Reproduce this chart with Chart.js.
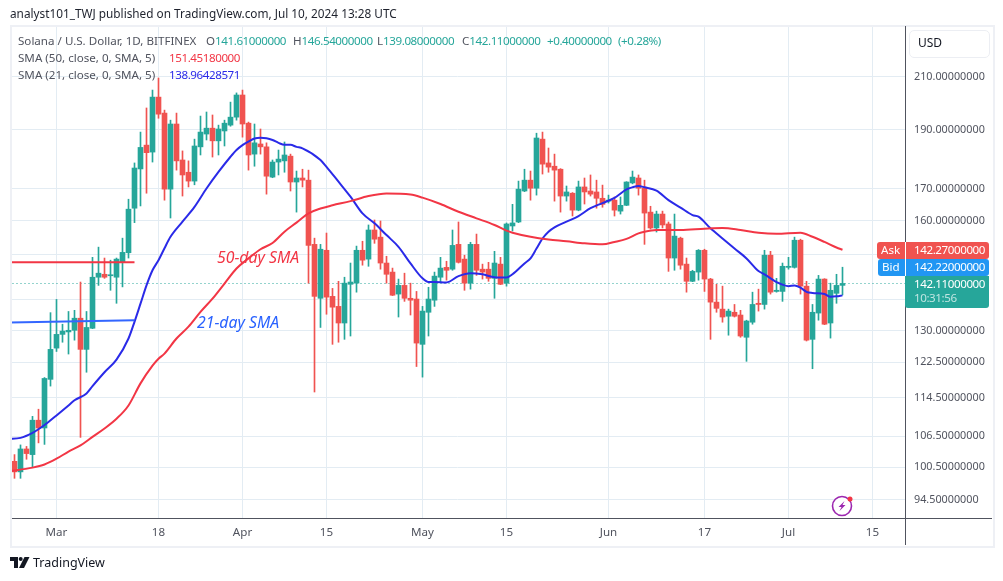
<!DOCTYPE html>
<html><head><meta charset="utf-8">
<style>
html,body{margin:0;padding:0;background:#fff;width:1003px;height:581px;overflow:hidden;font-family:"Noto Sans",sans-serif}
#wrap{position:relative;width:1003px;height:581px}
canvas{position:absolute;left:0;top:0}
.t{position:absolute;white-space:nowrap;line-height:1}
.n{letter-spacing:-0.42px}
.box{position:absolute}
</style></head><body>
<div id="wrap">
<canvas id="c" width="1003" height="581"></canvas>
<div class="box" style="left:10px;top:25px;width:981px;height:519px;border:2px solid #eef0f5"></div>
<div class="box" style="left:905px;top:26px;width:1px;height:519px;background:#50535e"></div>
<div class="box" style="left:905px;top:518px;width:87px;height:1px;background:#50535e"></div>
<div class="t" style="left:10px;top:8px;font-size:11.8px;color:#1e222d">analyst101_TWJ published on TradingView.com, Jul 10, 2024 13:28 UTC</div>
<div class="t" style="left:18px;top:35px;font-size:11.6px;color:#50535e">Solana / U.S. Dollar, 1D, BITFINEX</div>
<div class="t" style="left:206px;top:35px;font-size:11.6px;color:#50535e">O<span class="n" style="color:#26a69a">141.61000000</span></div>
<div class="t" style="left:293px;top:35px;font-size:11.6px;color:#50535e">H<span class="n" style="color:#26a69a">146.54000000</span></div>
<div class="t" style="left:377px;top:35px;font-size:11.6px;color:#50535e">L<span class="n" style="color:#26a69a">139.08000000</span></div>
<div class="t" style="left:462px;top:35px;font-size:11.6px;color:#50535e">C<span class="n" style="color:#26a69a">142.11000000</span></div>
<div class="t n" style="left:547px;top:35px;font-size:11.6px;color:#26a69a">+0.40000000</div>
<div class="t n" style="left:618px;top:35px;font-size:11.6px;color:#26a69a">(+0.28%)</div>
<div class="t" style="left:18px;top:52px;font-size:11.6px;color:#50535e">SMA (50, close, 0, SMA, 5)</div>
<div class="t n" style="left:169px;top:52px;font-size:11.6px;color:#f23645">151.45180000</div>
<div class="t" style="left:18px;top:69px;font-size:11.6px;color:#50535e">SMA (21, close, 0, SMA, 5)</div>
<div class="t n" style="left:169px;top:69px;font-size:11.6px;color:#2a2ae8">138.96428571</div>
<div class="t" style="left:217px;top:250px;font-size:15.8px;font-style:italic;color:#f23645">50-day SMA</div>
<div class="t" style="left:197px;top:315px;font-size:15.8px;font-style:italic;color:#2962ff">21-day SMA</div>
<div class="box" style="left:909px;top:30px;width:79px;height:26px;border:1.5px solid #eceef3;border-radius:5px;background:#fff"></div>
<div class="t" style="left:918px;top:37px;font-size:12px;color:#131722">USD</div>
<div class="box" style="left:877px;top:242px;width:112px;height:17px;background:#f05350;border-radius:3px"></div>
<div class="box" style="left:878px;top:259px;width:111px;height:17px;background:#2196f3;border-radius:3px"></div>
<div class="box" style="left:905px;top:276px;width:84px;height:32px;background:#26a69a;border-radius:0 0 3px 3px"></div>
<div class="box" style="left:905px;top:242px;width:1px;height:34px;background:#fff"></div>
<div class="t" style="left:881px;top:244px;font-size:11.6px;color:#fff">Ask</div>
<div class="t" style="left:882px;top:261px;font-size:11.6px;color:#fff">Bid</div>
<div class="t n" style="left:914px;top:244px;font-size:11.6px;color:#fff">142.27000000</div>
<div class="t n" style="left:914px;top:261px;font-size:11.6px;color:#fff">142.22000000</div>
<div class="t n" style="left:914px;top:278px;font-size:11.6px;color:#fff">142.11000000</div>
<div class="t n" style="left:914px;top:292px;font-size:11.6px;color:#bfe5e1">10:31:56</div>
<svg class="box" style="left:831px;top:494px" width="24" height="24" viewBox="0 0 24 24"><circle cx="11" cy="12" r="9.5" fill="#fff" stroke="#9c27b0" stroke-width="1.6"/><path d="M13.5 7 L7.5 13 L10.5 13 L8.5 17 L14.5 11 L11.5 11 Z" fill="#9c27b0"/><circle cx="19" cy="5" r="2.5" fill="#f23645"/></svg>
<svg class="box" style="left:10px;top:557px" width="20" height="12" viewBox="0 0 20 12"><path d="M0 0H8V11H4V4H0Z" fill="#131722"/><circle cx="10.7" cy="2" r="2" fill="#131722"/><path d="M14.5 0H19.5L14 11H9Z" fill="#131722"/></svg>
<div class="t" style="left:33px;top:557px;font-size:12.5px;color:#131722">TradingView</div>
</div>
<script src="https://cdn.jsdelivr.net/npm/chart.js@4/dist/chart.umd.min.js"></script>
<script>
const firstDay = -7;
const opens = [
101.6,99.6,104.0,102.9,109.8,108.2,118.6,125.8,129.1,129.7,
130.1,133.1,125.5,130.6,143.8,144.6,144.2,143.8,148.0,150.6,
163.8,176.4,184.5,182.1,202.0,196.0,169.8,192.0,179.4,175.3,
172.4,183.9,188.4,190.5,186.0,189.5,191.6,194.5,202.8,192.3,
181.4,184.9,183.9,173.7,178.7,179.1,180.7,172.1,173.4,172.7,
153.0,138.2,151.3,138.7,136.1,131.9,141.9,142.2,151.3,148.8,
157.2,155.1,147.7,145.2,139.3,141.6,138.2,138.0,126.7,134.6,
137.7,143.8,146.5,146.0,153.0,148.8,142.2,153.0,146.0,146.0,
143.5,147.4,142.2,158.4,159.6,169.2,172.7,170.1,186.6,178.4,
177.3,176.3,167.6,168.5,163.2,170.5,169.2,168.9,166.9,166.0,
166.3,162.9,164.7,171.8,173.4,170.1,162.6,157.8,162.0,159.0,
149.1,154.8,147.4,142.7,145.2,151.3,143.3,137.2,135.4,133.6,
134.6,133.9,128.4,132.1,136.9,136.6,149.9,140.0,140.0,146.5,
146.5,154.2,141.4,127.9,134.4,143.3,131.9,139.5,141.61];
const closes = [
99.6,104.0,103.1,109.8,108.2,118.8,125.5,129.1,129.9,130.1,
133.1,125.5,130.8,143.8,144.9,143.8,144.4,148.8,150.7,163.5,
176.7,183.7,181.9,202.0,195.6,169.8,192.0,179.1,174.4,172.4,
184.2,189.1,190.5,186.0,190.2,192.3,194.5,202.8,192.0,181.1,
185.3,183.9,174.0,178.7,179.7,181.1,172.1,173.4,172.7,152.7,
138.7,151.6,138.5,135.9,131.9,142.2,142.5,151.3,148.5,157.2,
154.5,147.7,144.6,139.0,141.6,138.2,137.7,127.0,134.9,138.0,
144.1,146.3,145.7,152.7,147.9,142.2,153.0,145.7,145.2,143.5,
147.7,141.9,159.0,159.3,169.8,172.7,170.1,187.0,178.0,177.0,
176.0,167.6,168.9,163.2,170.5,168.9,168.2,166.9,165.0,166.3,
163.2,164.7,172.1,173.7,170.1,162.3,157.8,162.0,158.7,149.1,
155.4,147.1,142.7,145.4,151.3,143.3,137.2,135.6,133.4,134.9,
133.6,128.7,132.4,136.6,136.6,149.9,139.8,140.3,146.8,146.8,
154.2,141.4,127.7,134.6,143.3,131.6,140.3,141.6,142.11];
const highs = [
102.9,104.8,104.5,110.6,112.1,119.0,134.5,137.9,131.6,134.8,
135.1,142.5,134.8,149.3,152.2,149.1,148.5,149.1,154.8,166.6,
178.4,189.1,197.9,204.7,209.4,197.1,193.4,196.0,182.5,179.1,
186.6,194.9,196.4,195.3,191.6,193.4,200.1,203.6,204.7,192.7,
192.0,190.2,185.3,179.4,182.8,185.6,181.4,175.7,176.3,176.0,
154.8,153.0,156.3,140.8,142.7,143.8,147.7,152.5,153.9,158.7,
160.2,159.9,149.6,146.3,143.3,144.9,142.2,140.0,136.1,141.1,
145.2,149.3,148.2,157.2,159.6,149.9,153.6,156.0,147.4,147.9,
151.0,149.3,159.3,165.0,172.4,176.3,175.7,188.7,189.1,183.5,
181.4,176.5,170.8,168.7,172.4,173.4,174.4,172.7,171.1,167.9,
167.3,167.3,172.2,175.7,174.4,172.7,164.4,162.9,162.9,159.6,
162.0,155.1,149.1,145.7,151.5,151.6,143.5,141.9,141.4,135.4,
136.6,135.1,132.6,139.8,140.6,151.3,151.0,143.5,147.7,149.3,
155.1,154.5,142.7,136.6,144.3,143.4,142.2,144.6,146.54];
const lows = [
98.4,98.4,102.0,100.4,105.2,104.9,117.1,125.0,127.2,124.4,
127.7,106.3,120.2,130.5,141.6,143.5,140.3,136.9,141.2,149.1,
159.4,164.5,168.5,178.7,194.1,166.3,160.8,176.0,167.6,170.5,
171.2,181.1,186.3,180.4,181.1,184.2,191.2,193.4,187.3,176.0,
177.3,181.4,168.2,173.5,174.4,175.3,169.2,162.6,170.5,142.2,
115.8,130.8,134.1,126.7,127.2,127.9,128.7,139.8,147.1,146.8,
153.3,146.0,142.2,138.9,133.4,137.4,133.9,121.5,119.1,128.7,
136.1,142.5,143.0,145.7,147.7,140.3,140.6,144.3,143.3,142.7,
138.2,141.8,141.4,156.9,159.4,169.0,166.3,167.9,174.7,175.3,
166.0,162.6,166.0,161.4,163.0,165.1,167.6,163.8,164.1,165.4,
161.4,162.0,164.6,171.5,167.9,153.0,157.5,156.6,157.8,145.4,
145.7,146.0,139.8,142.6,143.0,140.0,127.9,134.6,132.1,128.9,
133.4,128.4,122.7,131.6,134.9,135.4,139.3,139.8,137.4,146.0,
146.3,139.3,127.5,121.0,132.6,131.5,128.2,136.9,139.08];
const sma21Days = [-8,-6,-4,-2,0,2,3,5,6,8,10,12,13,14,15,16,17,18,19,21,23,25,27,29,30,31,32,33,34,35,36,37,38,39,40,41,44,45,47,49,51,53,55,57,59,61,62,63,65,67,69,71,73,75,76,78,79,80,81,82,83,85,87,89,91,93,95,96,97,98,100,102,104,106,107,109,111,113,115,117,118,120,122,123,124,125,126,128,129,130,131];
const sma21Values = [106.0,106.2,107.2,108.8,110.8,112.9,114.0,115.5,117.1,120.2,123.1,128.1,132.2,136.8,141.6,145.7,148.5,151.9,155.2,159.7,164.2,170.0,175.4,180.5,182.8,184.5,185.7,186.8,187.1,186.9,186.3,185.3,184.6,184.6,183.9,183.4,179.4,177.1,172.2,167.4,162.2,159.2,155.7,152.3,147.6,143.5,142.5,142.5,142.4,144.1,144.9,144.6,143.8,143.7,144.6,147.6,149.0,151.8,154.7,156.7,158.0,159.7,161.4,163.8,165.4,167.0,169.7,170.4,170.8,170.4,169.3,166.3,164.0,161.7,161.2,157.7,154.7,151.8,149.0,145.5,144.6,142.5,141.4,141.6,141.0,139.9,139.6,139.3,138.6,138.7,138.96];
const sma50Days = [-8,-4,-2,0,2,4,6,8,10,12,14,16,17,18,20,22,24,26,28,30,32,34,36,38,40,42,44,46,49,52,55,59,61,64,67,70,73,75,76,79,82,85,88,91,93,95,97,98,100,104,108,111,114,117,120,124,126,128,130,131];
const sma50Values = [99.7,100.4,101.0,102.1,103.5,104.7,106.4,108.1,110.1,112.9,117.7,121.7,123.3,124.5,128.1,131.0,134.7,138.1,142.1,146.2,149.0,151.6,153.4,156.7,159.4,162.2,163.7,164.7,166.0,167.6,168.4,168.1,167.1,165.1,162.7,160.7,158.7,157.0,156.4,155.2,154.4,153.9,153.3,153.0,153.7,154.6,156.2,156.7,157.2,157.2,157.6,157.8,157.2,156.4,156.1,156.4,155.2,153.7,152.1,151.45];
const noteDays = [-8, 13];
const note50Values = [147.9, 147.9];
const note21Values = [132.0, 132.6];
const lastPrice = 142.11;
const priceTicks = [210,190,170,160,150,138,130,122.5,114.5,106.5,100.5,94.5];
const hiddenPriceTicks = [150,138];
const dayTicks = [0,17,31,45,61,75,92,108,122,136];
const dayTickNames = ['Mar','18','Apr','15','May','15','Jun','17','Jul','15'];

const UP='#26a69a', DOWN='#f05350';
const days = opens.map((_,k)=>firstDay+k);
const colors = opens.map((o,k)=>closes[k]>=o?UP:DOWN);
const line = (label,xs,ys,color,width,extra)=>Object.assign({type:'line',label,data:xs.map((x,k)=>({x,y:ys[k]})),borderColor:color,borderWidth:width,pointRadius:0,fill:false,cubicInterpolationMode:'monotone'},extra||{});
new Chart(document.getElementById('c'),{
  type:'bar',
  data:{datasets:[
    line('Last',[days[0]-1,141.5],[lastPrice,lastPrice],UP,1,{borderDash:[1,3],order:5}),
    {label:'Wicks',data:days.map((x,k)=>({x,y:[lows[k],highs[k]]})),backgroundColor:colors,barThickness:1,grouped:false,order:4},
    {label:'Bodies',data:days.map((x,k)=>({x,y:[Math.min(opens[k],closes[k]),Math.max(opens[k],closes[k])]})),backgroundColor:colors,barThickness:5,minBarLength:1,grouped:false,order:3},
    line('SMA 50',sma50Days,sma50Values,'#f23645',2,{order:2}),
    line('SMA 21',sma21Days,sma21Values,'#2a2ae8',2,{order:2}),
    line('50-day note',noteDays,note50Values,'#f23645',2,{order:1}),
    line('21-day note',noteDays,note21Values,'#3366ff',2,{order:1})
  ]},
  options:{
    responsive:false,animation:false,events:[],
    layout:{padding:{left:10,top:26,right:0,bottom:0}},
    plugins:{legend:{display:false},tooltip:{enabled:false}},
    scales:{
      x:{type:'linear',min:-7.75,max:141.4167,offset:false,
        grid:{color:'#e3ecf3',offset:false,drawTicks:false},
        border:{display:true,color:'#50535e'},
        afterBuildTicks:s=>{s.ticks=dayTicks.map(value=>({value}))},
        afterFit:s=>{s.height=63},
        ticks:{autoSkip:false,maxRotation:0,padding:8,color:'#50535e',font:{family:'"Noto Sans"',size:11.6},
          callback:v=>dayTickNames[dayTicks.indexOf(v)]}},
      y:{type:'logarithmic',position:'right',min:91.3,max:231,
        grid:{color:'#e3ecf3',drawTicks:false},
        border:{display:true,color:'#50535e'},
        afterBuildTicks:s=>{s.ticks=priceTicks.map(value=>({value}))},
        afterFit:s=>{s.width=98},
        ticks:{autoSkip:false,padding:9,crossAlign:'near',color:'#50535e',font:{family:'"Noto Sans"',size:10.8},
          callback:v=>hiddenPriceTicks.includes(v)?'':v.toFixed(8)}}
    }
  }
});
</script>
</body></html>
